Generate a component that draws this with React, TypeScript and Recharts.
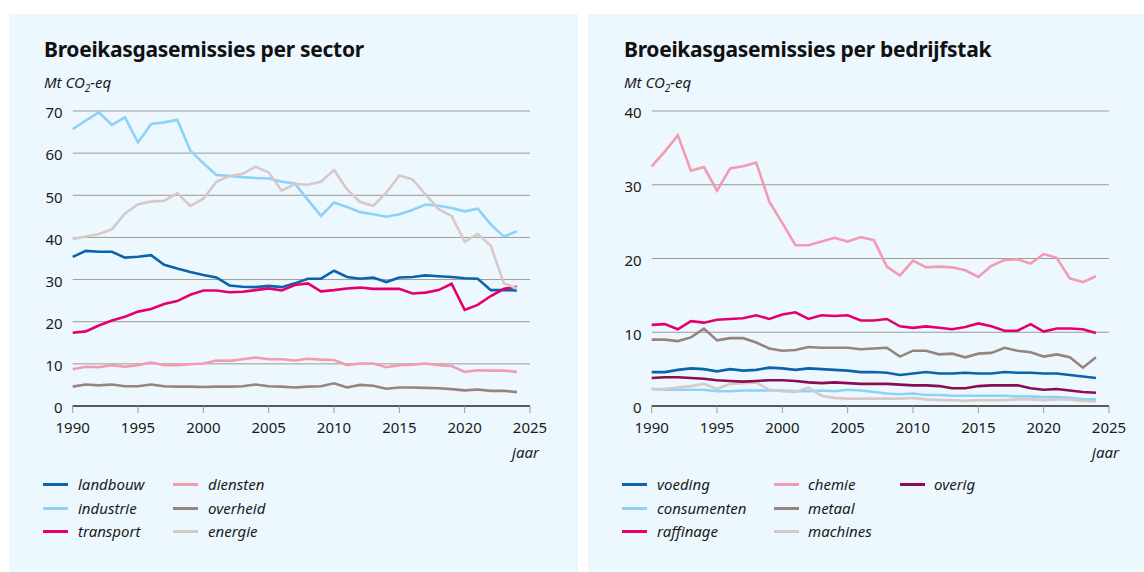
import React from "react";
import { LineChart, Line, XAxis, YAxis, CartesianGrid } from "recharts";

const years = [1990, 1991, 1992, 1993, 1994, 1995, 1996, 1997, 1998, 1999, 2000, 2001, 2002, 2003, 2004, 2005, 2006, 2007, 2008, 2009, 2010, 2011, 2012, 2013, 2014, 2015, 2016, 2017, 2018, 2019, 2020, 2021, 2022, 2023, 2024];
const xTicks = [1990, 1995, 2000, 2005, 2010, 2015, 2020, 2025];
const yTicksLeft = [0, 10, 20, 30, 40, 50, 60, 70];
const yTicksRight = [0, 10, 20, 30, 40];

// Left: per sector (Mt CO2-eq)
const landbouw = [35.4, 36.8, 36.6, 36.6, 35.2, 35.4, 35.8, 33.5, 32.6, 31.8, 31.1, 30.5, 28.6, 28.3, 28.2, 28.5, 28.2, 29.1, 30.2, 30.2, 32.1, 30.6, 30.2, 30.5, 29.4, 30.5, 30.6, 31.0, 30.8, 30.6, 30.3, 30.2, 27.5, 27.5, 27.4];
const industrie = [65.7, 67.7, 69.7, 66.7, 68.5, 62.5, 66.9, 67.3, 67.9, 60.6, 57.6, 54.8, 54.6, 54.3, 54.1, 54.0, 53.2, 52.8, 48.9, 45.1, 48.3, 47.2, 46.0, 45.5, 44.9, 45.5, 46.5, 47.8, 47.5, 47.0, 46.2, 46.8, 43.1, 40.2, 41.5];
const transport = [17.4, 17.7, 19.1, 20.3, 21.2, 22.4, 23.0, 24.2, 24.9, 26.4, 27.4, 27.4, 27.0, 27.1, 27.5, 27.9, 27.4, 28.7, 29.1, 27.2, 27.5, 27.9, 28.1, 27.8, 27.8, 27.8, 26.7, 26.9, 27.5, 29.0, 22.8, 24.0, 26.1, 27.8, 28.3];
const diensten = [8.7, 9.3, 9.2, 9.7, 9.3, 9.7, 10.3, 9.7, 9.7, 9.9, 10.1, 10.8, 10.7, 11.1, 11.5, 11.1, 11.1, 10.8, 11.2, 11.0, 10.9, 9.7, 10.1, 10.1, 9.2, 9.7, 9.8, 10.1, 9.7, 9.5, 8.1, 8.5, 8.4, 8.4, 8.1];
const overheid = [4.6, 5.1, 4.9, 5.1, 4.7, 4.7, 5.1, 4.7, 4.6, 4.6, 4.5, 4.6, 4.6, 4.7, 5.1, 4.7, 4.6, 4.4, 4.6, 4.7, 5.4, 4.4, 5.0, 4.8, 4.1, 4.4, 4.4, 4.3, 4.2, 4.0, 3.7, 3.9, 3.6, 3.6, 3.3];
const energie = [39.6, 40.2, 40.8, 41.9, 45.7, 47.9, 48.5, 48.7, 50.5, 47.5, 49.2, 53.2, 54.6, 55.1, 56.8, 55.4, 51.1, 52.7, 52.5, 53.2, 56.0, 51.4, 48.4, 47.5, 50.6, 54.7, 53.8, 50.2, 46.7, 45.1, 39.0, 40.8, 38.0, 29.1, 27.9];

// Right: per bedrijfstak (Mt CO2-eq)
const voeding = [4.6, 4.6, 4.9, 5.1, 5.0, 4.7, 5.0, 4.8, 4.9, 5.2, 5.1, 4.9, 5.1, 5.0, 4.9, 4.8, 4.6, 4.6, 4.5, 4.2, 4.4, 4.6, 4.4, 4.4, 4.5, 4.4, 4.4, 4.6, 4.5, 4.5, 4.4, 4.4, 4.2, 4.0, 3.8];
const consumenten = [2.3, 2.2, 2.2, 2.2, 2.2, 2.0, 2.0, 2.1, 2.1, 2.1, 2.1, 2.0, 2.0, 2.1, 2.0, 2.2, 2.1, 1.9, 1.7, 1.6, 1.7, 1.5, 1.5, 1.4, 1.4, 1.4, 1.4, 1.4, 1.3, 1.3, 1.2, 1.2, 1.1, 0.9, 0.9];
const raffinage = [11.0, 11.1, 10.4, 11.5, 11.3, 11.7, 11.8, 11.9, 12.3, 11.8, 12.4, 12.7, 11.8, 12.3, 12.2, 12.3, 11.6, 11.6, 11.8, 10.8, 10.6, 10.8, 10.6, 10.4, 10.7, 11.2, 10.8, 10.2, 10.2, 11.1, 10.1, 10.5, 10.5, 10.4, 9.9];
const chemie = [32.5, 34.5, 36.7, 31.9, 32.4, 29.2, 32.2, 32.5, 33.0, 27.7, 24.8, 21.8, 21.8, 22.3, 22.8, 22.3, 22.9, 22.5, 18.9, 17.7, 19.7, 18.8, 18.9, 18.8, 18.4, 17.5, 19.0, 19.8, 19.9, 19.3, 20.6, 20.1, 17.3, 16.8, 17.6];
const metaal = [9.0, 9.0, 8.8, 9.3, 10.5, 8.9, 9.2, 9.2, 8.6, 7.8, 7.5, 7.6, 8.0, 7.9, 7.9, 7.9, 7.7, 7.8, 7.9, 6.7, 7.5, 7.5, 7.0, 7.1, 6.6, 7.1, 7.2, 7.9, 7.5, 7.3, 6.7, 7.0, 6.6, 5.2, 6.6];
const machines = [2.3, 2.3, 2.5, 2.7, 3.0, 2.3, 3.0, 3.1, 3.2, 2.2, 2.0, 1.9, 2.5, 1.4, 1.1, 1.0, 1.0, 1.0, 1.0, 1.0, 1.1, 0.9, 0.8, 0.8, 0.7, 0.8, 0.8, 0.8, 0.9, 0.9, 0.8, 0.9, 0.9, 0.7, 0.6];
const overig = [3.8, 3.9, 3.9, 3.8, 3.7, 3.5, 3.4, 3.3, 3.4, 3.5, 3.5, 3.4, 3.2, 3.1, 3.2, 3.1, 3.0, 3.0, 3.0, 2.9, 2.8, 2.8, 2.7, 2.4, 2.4, 2.7, 2.8, 2.8, 2.8, 2.4, 2.2, 2.3, 2.1, 1.9, 1.8];

const C = {
  darkBlue: "#0a64ad",
  lightBlue: "#8dd1fb",
  magenta: "#e4006c",
  pink: "#f49ab2",
  taupe: "#978380",
  lightGrey: "#d8c9c9",
  purple: "#8b0b55",
};

type S = { key: string; label: string; color: string; values: number[] };

const leftSeries: S[] = [
  { key: "landbouw", label: "landbouw", color: C.darkBlue, values: landbouw },
  { key: "industrie", label: "industrie", color: C.lightBlue, values: industrie },
  { key: "transport", label: "transport", color: C.magenta, values: transport },
  { key: "diensten", label: "diensten", color: C.pink, values: diensten },
  { key: "overheid", label: "overheid", color: C.taupe, values: overheid },
  { key: "energie", label: "energie", color: C.lightGrey, values: energie },
];
const rightSeries: S[] = [
  { key: "voeding", label: "voeding", color: C.darkBlue, values: voeding },
  { key: "consumenten", label: "consumenten", color: C.lightBlue, values: consumenten },
  { key: "raffinage", label: "raffinage", color: C.magenta, values: raffinage },
  { key: "chemie", label: "chemie", color: C.pink, values: chemie },
  { key: "metaal", label: "metaal", color: C.taupe, values: metaal },
  { key: "machines", label: "machines", color: C.lightGrey, values: machines },
  { key: "overig", label: "overig", color: C.purple, values: overig },
];

function buildRows(series: S[]) {
  return years.map((y, i) => {
    const row: Record<string, number> = { year: y };
    series.forEach((s) => (row[s.key] = s.values[i]));
    return row;
  });
}

const FONT = "'Noto Sans', sans-serif";
const BG = "#edf8fe";

function Chart({ series, left, width, yAxisWidth, rightMargin, yMax, yTicks }: { series: S[]; left: number; width: number; yAxisWidth: number; rightMargin: number; yMax: number; yTicks: number[] }) {
  const data = buildRows(series);
  return (
    <div style={{ position: "absolute", left, top: 0 }}>
      <LineChart width={width} height={450} data={data} margin={{ top: 111, right: rightMargin, left: 0, bottom: 14 }}>
        <CartesianGrid vertical={false} stroke="#9a9a9a" strokeWidth={1} />
        <XAxis
          dataKey="year"
          type="number"
          domain={[1990, 2025]}
          ticks={xTicks}
          interval={0}
          height={30}
          tickSize={7}
          tickMargin={9}
          axisLine={{ stroke: "#333", strokeWidth: 1.3 }}
          tickLine={{ stroke: "#999" }}
          tick={{ fill: "#1a1a1a", fontSize: 15, fontFamily: FONT }}
        />
        <YAxis
          type="number"
          domain={[0, yMax]}
          ticks={yTicks}
          interval={0}
          width={yAxisWidth}
          axisLine={false}
          tickLine={false}
          tickSize={0}
          tickMargin={10}
          tick={{ fill: "#1a1a1a", fontSize: 15, fontFamily: FONT, dy: 2 }}
        />
        {series.map((s) => (
          <Line key={s.key} type="linear" dataKey={s.key} stroke={s.color} strokeWidth={2.6} dot={false} activeDot={false} isAnimationActive={false} />
        ))}
      </LineChart>
    </div>
  );
}

function Legend({ series, cols, rowsY }: { series: S[]; cols: { sw: number; tx: number }[]; rowsY: number[] }) {
  return (
    <>
      {series.map((s, i) => {
        const col = cols[Math.floor(i / 3)];
        const y = rowsY[i % 3];
        return (
          <React.Fragment key={s.key}>
            <div style={{ position: "absolute", left: col.sw, top: y - 1.5, width: 25, height: 3, background: s.color }} />
            <div style={{ position: "absolute", left: col.tx, top: y - 11, lineHeight: "22px", fontSize: 15, fontStyle: "italic", color: "#1a1a1a", fontFamily: FONT, whiteSpace: "nowrap" }}>{s.label}</div>
          </React.Fragment>
        );
      })}
    </>
  );
}

function Texts({ x, title, jaarRight }: { x: number; title: string; jaarRight: number }) {
  return (
    <>
      <div style={{ position: "absolute", left: x, top: 35, fontSize: 21, fontWeight: 700, color: "#111", fontFamily: FONT, whiteSpace: "nowrap", lineHeight: "28px", letterSpacing: -0.3 }}>{title}</div>
      <div style={{ position: "absolute", left: x, top: 71, fontSize: 15, fontStyle: "italic", color: "#1a1a1a", fontFamily: FONT, whiteSpace: "nowrap", lineHeight: "22px" }}>
        Mt CO<sub style={{ fontSize: 10 }}>2</sub>-eq
      </div>
      <div style={{ position: "absolute", left: jaarRight - 40, width: 40, textAlign: "right", top: 441, fontSize: 15, fontStyle: "italic", color: "#1a1a1a", fontFamily: FONT, lineHeight: "22px" }}>jaar</div>
    </>
  );
}

export default function App() {
  return (
    <div style={{ position: "absolute", left: 0, top: 0, width: 1144, height: 572, background: "#fff", overflow: "hidden", fontFamily: FONT }}>
      <div style={{ position: "absolute", left: 9, top: 14, width: 569, height: 558, background: BG }} />
      <div style={{ position: "absolute", left: 588, top: 14, width: 556, height: 558, background: BG }} />
      <Texts x={44} title="Broeikasgasemissies per sector" jaarRight={539} />
      <Texts x={624} title="Broeikasgasemissies per bedrijfstak" jaarRight={1119} />
      <Chart series={leftSeries} left={0} width={580} yAxisWidth={72.7} rightMargin={50} yMax={70} yTicks={yTicksLeft} />
      <Chart series={rightSeries} left={580} width={564} yAxisWidth={71.7} rightMargin={35} yMax={40} yTicks={yTicksRight} />
      <Legend series={leftSeries} cols={[{ sw: 43, tx: 78 }, { sw: 173, tx: 208 }]} rowsY={[484, 508, 531]} />
      <Legend series={rightSeries} cols={[{ sw: 622, tx: 657 }, { sw: 774, tx: 808 }, { sw: 900, tx: 934 }]} rowsY={[484, 508, 531]} />
    </div>
  );
}
